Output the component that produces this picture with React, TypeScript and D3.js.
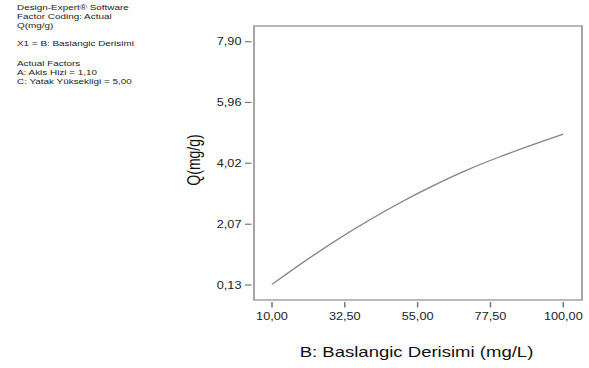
import { useEffect, useRef } from 'react'
import * as d3 from 'd3'

// readings (one-factor view)
const concentration = [10, 20, 30, 40, 50, 60, 70, 80, 90, 100]
const capacity = [0.15, 0.88, 1.57, 2.2, 2.78, 3.31, 3.79, 4.21, 4.59, 4.95]

const xTicks = [10, 32.5, 55, 77.5, 100]
const yTicks = [0.13, 2.07, 4.02, 5.96, 7.9]

const infoLines = [
  'Design-Expert® Software',
  'Factor Coding: Actual',
  'Q(mg/g)',
  '',
  'X1 = B: Baslangic Derisimi',
  '',
  'Actual Factors',
  'A: Akis Hizi = 1,10',
  'C: Yatak Yüksekligi = 5,00',
]
const infoBaselines = [9.6, 19, 28.2, 0, 46.2, 0, 66, 74.8, 83.6]

const xTitle = 'B: Baslangic Derisimi (mg/L)'
const yTitle = 'Q(mg/g)'

// the picture is stretched horizontally, so draw narrow and let the viewBox widen it
const SX = 1.27
const W = 589
const H = 368
const innerW = W / SX

const fmt = (v: number) => v.toFixed(2).replace('.', ',')

export default function App() {
  const ref = useRef<SVGSVGElement | null>(null)

  useEffect(() => {
    if (!ref.current) return
    const svg = d3.select(ref.current)
    svg.selectAll('*').remove()

    const frame = { left: 254 / SX, right: 582 / SX, top: 26, bottom: 300 }

    const x = d3.scaleLinear().domain([10, 100]).range([272 / SX, 563.3 / SX])
    const y = d3.scaleLinear().domain([0.13, 7.9]).range([285, 41.7])

    svg.append('rect').attr('width', innerW).attr('height', H).attr('fill', '#fff')

    const font = 'Liberation Sans, Arial, sans-serif'

    // info block
    svg
      .append('g')
      .selectAll('text')
      .data(infoLines.map((t, i) => ({ t, b: infoBaselines[i] })).filter((d) => d.t))
      .join('text')
      .attr('x', 17 / SX)
      .attr('y', (d) => d.b)
      .style('font-family', font)
      .style('font-size', '7.8px')
      .style('fill', '#222')
      .text((d) => d.t)

    // frame
    svg
      .append('rect')
      .attr('x', frame.left)
      .attr('y', frame.top)
      .attr('width', frame.right - frame.left)
      .attr('height', frame.bottom - frame.top)
      .attr('fill', 'none')
      .attr('stroke', '#9a9a9a')
      .attr('stroke-width', 1.4)

    // y axis
    const yAxis = svg.append('g')
    yAxis
      .selectAll('line')
      .data(yTicks)
      .join('line')
      .attr('x1', 245 / SX)
      .attr('x2', 251.5 / SX)
      .attr('y1', (d) => y(d))
      .attr('y2', (d) => y(d))
      .attr('stroke', '#777')
      .attr('stroke-width', 1.2)
    yAxis
      .selectAll('text')
      .data(yTicks)
      .join('text')
      .attr('x', 241.5 / SX)
      .attr('y', (d) => y(d) + 3.6)
      .attr('text-anchor', 'end')
      .style('font-family', font)
      .style('font-size', '10px')
      .style('fill', '#222')
      .text((d) => fmt(d))

    // x axis
    const xAxis = svg.append('g')
    xAxis
      .selectAll('line')
      .data(xTicks)
      .join('line')
      .attr('x1', (d) => x(d))
      .attr('x2', (d) => x(d))
      .attr('y1', 302)
      .attr('y2', 307.5)
      .attr('stroke', '#777')
      .attr('stroke-width', 1.2)
    xAxis
      .selectAll('text')
      .data(xTicks)
      .join('text')
      .attr('x', (d) => x(d))
      .attr('y', 320)
      .attr('text-anchor', 'middle')
      .style('font-family', font)
      .style('font-size', '10px')
      .style('fill', '#222')
      .text((d) => fmt(d))

    // titles
    svg
      .append('text')
      .attr('x', 416.5 / SX)
      .attr('y', 357.5)
      .attr('text-anchor', 'middle')
      .style('font-family', font)
      .style('font-size', '14.6px')
      .style('fill', '#111')
      .text(xTitle)

    svg
      .append('text')
      .attr('transform', `translate(${200 / SX},160) rotate(-90)`)
      .attr('text-anchor', 'middle')
      .style('font-family', font)
      .style('font-size', '14px')
      .style('fill', '#111')
      .text(yTitle)

    // response curve
    const line = d3
      .line<number>()
      .x((_, i) => x(concentration[i]))
      .y((d) => y(d))
      .curve(d3.curveMonotoneX)

    svg
      .append('path')
      .datum(capacity)
      .attr('d', line)
      .attr('fill', 'none')
      .attr('stroke', '#8a8a8a')
      .attr('stroke-width', 1.3)
  }, [])

  return (
    <svg
      ref={ref}
      width={W}
      height={H}
      viewBox={`0 0 ${innerW} ${H}`}
      preserveAspectRatio="none"
      style={{ position: 'absolute', left: 0, top: 0, display: 'block', background: '#fff' }}
    />
  )
}
